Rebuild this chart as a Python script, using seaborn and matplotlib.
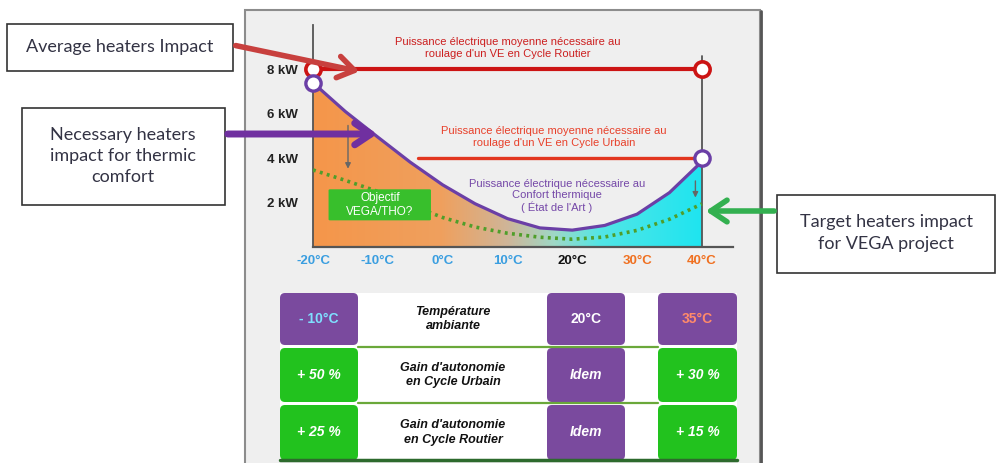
import numpy as np
import pandas as pd
import seaborn as sns
import matplotlib.pyplot as plt
from matplotlib.colors import LinearSegmentedColormap
from matplotlib.patches import Rectangle, FancyBboxPatch, FancyArrowPatch

# power needed vs ambient temperature (degC, kW)
temps = [-20, -15, -10, -5, 0, 5, 10, 15, 20, 25, 30, 35, 40]
comfort_kw = [7.4, 6.1, 4.95, 3.82, 2.8, 1.95, 1.28, 0.86, 0.76, 0.97, 1.48, 2.45, 3.85]
target_kw = [3.47, 3.0, 2.5, 1.9, 1.33, 0.9, 0.62, 0.44, 0.35, 0.45, 0.75, 1.25, 1.94]
routier_temps = [-20, 40]
routier_kw = [8, 8]
urbain_temps = [-3.8, 40]
urbain_kw = [4, 4]
comfort_ends_temps = [-20, 40]
comfort_ends_kw = [7.4, 4.0]

xtick_vals = [-20, -10, 0, 10, 20, 30, 40]
xtick_labels = ["-20°C", "-10°C", "0°C", "10°C", "20°C", "30°C", "40°C"]
xtick_colors = ["#3a9ee0"] * 4 + ["#111111", "#f07020", "#f07020"]
ytick_vals = [2, 4, 6, 8]
ytick_labels = ["2 kW", "4 kW", "6 kW", "8 kW"]

# table below the chart
table_temps = ["- 10°C", "20°C", "35°C"]
table_temp_colors = ["#7fe0ff", "white", "#ff8a6a"]
gain_urbain = ["+ 50 %", "Idem", "+ 30 %"]
gain_routier = ["+ 25 %", "Idem", "+ 15 %"]
row_labels = ["Température\nambiante", "Gain d'autonomie\nen Cycle Urbain",
              "Gain d'autonomie\nen Cycle Routier"]

W, H = 997, 463
PURPLE = "#7a4a9e"
GREEN = "#22c21e"

sns.set_theme(style="white")
plt.rcParams['font.family'] = ['Liberation Sans', 'DejaVu Sans']

fig = plt.figure(figsize=(W / 100, H / 100), dpi=100)
bg = fig.add_axes([0, 0, 1, 1], zorder=0)
top = fig.add_axes([0, 0, 1, 1], zorder=3)
for a in (bg, top):
    a.set_xlim(0, W)
    a.set_ylim(H, 0)
    a.axis("off")
top.patch.set_alpha(0)

# grey panel
bg.add_patch(Rectangle((245, 10), 515, 470, fc="#efefef", ec="#8c8c8c", lw=1.5))
bg.plot([761, 761], [11, 463], color="#555555", lw=2)

# ---- chart ----
ax = fig.add_axes([313 / W, (H - 247) / H, 420 / W, 222 / H], zorder=2)
ax.patch.set_alpha(0)

poly = ax.fill_between(temps, comfort_kw, 0, color="none", lw=0)
cmap = LinearSegmentedColormap.from_list("heat", [
    (0.0, "#f5964a"), (0.33, "#efa05e"), (0.5, "#cfb598"),
    (0.62, "#9fd8c6"), (0.74, "#52e6e6"), (1.0, "#1fe4f0")])
im = ax.imshow(np.linspace(0, 1, 256).reshape(1, -1), extent=(-20, 40, 0, 8),
               aspect="auto", cmap=cmap, origin="lower", zorder=1)
im.set_clip_path(poly.get_paths()[0], transform=ax.transData)

ax.axvline(temps[-1], ymax=0.86, color="#555555", lw=1.3, zorder=2)

sns.lineplot(x=routier_temps, y=routier_kw, ax=ax, color="#cc1414", lw=3, zorder=4)
sns.lineplot(x=urbain_temps, y=urbain_kw, ax=ax, color="#e2361f", lw=2.4, zorder=4)
sns.lineplot(x=temps, y=comfort_kw, ax=ax, color="#6b3fa6", lw=2.3, zorder=4)
sns.lineplot(x=temps, y=target_kw, ax=ax, color="#4f9e2a", lw=2.6,
             linestyle=(0, (0.8, 1.2)), zorder=4)
ax.plot(routier_temps, routier_kw, "o", ms=11, mfc="white", mec="#cc1414", mew=2.6,
        zorder=5, clip_on=False)
ax.plot(comfort_ends_temps, comfort_ends_kw, "o", ms=11, mfc="white", mec="#6b3fa6",
        mew=2.4, zorder=5, clip_on=False)

ax.set_xlim(-20, 44.8)
ax.set_ylim(0, 10)
ax.set_xticks(xtick_vals)
ax.set_xticklabels(xtick_labels, fontsize=9.5, fontweight="bold")
for lab, c in zip(ax.get_xticklabels(), xtick_colors):
    lab.set_color(c)
ax.set_yticks(ytick_vals)
ax.set_yticklabels(ytick_labels, fontsize=9.5, fontweight="bold", color="#222222")
ax.tick_params(axis="x", length=0, pad=6)
ax.tick_params(axis="y", length=0, pad=11)
for s in ("top", "right"):
    ax.spines[s].set_visible(False)
ax.spines["left"].set_color("#555555")
ax.spines["left"].set_linewidth(1.3)
ax.spines["bottom"].set_color("#555555")
ax.spines["bottom"].set_linewidth(1.6)
ax.set_xlabel("")
ax.set_ylabel("")

# small grey arrows from comfort to target
ax.annotate("", xy=(-14.6, 3.4), xytext=(-14.6, 5.6),
            arrowprops=dict(arrowstyle="-|>", color="#666666", lw=1, mutation_scale=8), zorder=6)
ax.annotate("", xy=(39, 2.1), xytext=(39, 3.1),
            arrowprops=dict(arrowstyle="-|>", color="#666666", lw=1, mutation_scale=8), zorder=6)

# objective box
ax.add_patch(FancyBboxPatch((-17.6, 1.2), 15.8, 1.4, boxstyle="round,pad=0,rounding_size=0.25",
                            fc="#38bf2c", ec="none", zorder=6, mutation_aspect=1 / 6))
top.text(380, 205, "Objectif\nVEGA/THO?", color="white", fontsize=8.5, ha="center",
         va="center", linespacing=1.2)

top.text(508, 48, "Puissance électrique moyenne nécessaire au\nroulage d'un VE en Cycle Routier",
         color="#cc1f1f", fontsize=8, ha="center", va="center", linespacing=1.2)
top.text(554, 137, "Puissance électrique moyenne nécessaire au\nroulage d'un VE en Cycle Urbain",
         color="#e8402a", fontsize=8, ha="center", va="center", linespacing=1.2)
top.text(557, 196, "Puissance électrique nécessaire au\nConfort thermique\n( État de l'Art )",
         color="#7548a8", fontsize=8, ha="center", va="center", linespacing=1.15)

# ---- callout boxes ----
box_font = ['Lato', 'DejaVu Sans']
top.add_patch(Rectangle((7, 24), 226, 47, fc="white", ec="#333333", lw=1.2))
top.text(120, 47, "Average heaters Impact", fontsize=13, family=box_font,
         color="#333344", ha="center", va="center")
top.add_patch(Rectangle((22, 108), 203, 97, fc="white", ec="#333333", lw=1.2))
top.text(123, 156, "Necessary heaters\nimpact for thermic\ncomfort", fontsize=13,
         family=box_font, color="#333344", ha="center", va="center", linespacing=1.4)
top.add_patch(Rectangle((777, 195), 218, 78, fc="white", ec="#333333", lw=1.2))
top.text(886, 233, "Target heaters impact\nfor VEGA project", fontsize=13,
         family=box_font, color="#333344", ha="center", va="center", linespacing=1.45)

arrow_style = "->,head_length=0.9,head_width=0.6"
top.add_patch(FancyArrowPatch((233, 45), (362, 72), arrowstyle=arrow_style,
                              mutation_scale=13, lw=4, color="#c8403e"))
top.add_patch(FancyArrowPatch((225, 134), (380, 134), arrowstyle=arrow_style,
                              mutation_scale=13, lw=5, color="#7030a0"))
top.add_patch(FancyArrowPatch((777, 211), (703, 211), arrowstyle=arrow_style,
                              mutation_scale=13, lw=4, color="#33b050"))

# ---- table ----
cols = [(280, 358), (547, 625), (658, 737)]
rows = [(293, 345), (348, 402), (405, 460)]
bg.add_patch(Rectangle((280, 293), 457, 167, fc="white", ec="none"))
for y in (347, 403):
    bg.plot([358, 658], [y, y], color="#6aa83a", lw=1.6)
bg.plot([280, 737], [460, 460], color="#2d6a2d", lw=2.5)

row_values = [table_temps, gain_urbain, gain_routier]
for r, (y0, y1) in enumerate(rows):
    for c, (x0, x1) in enumerate(cols):
        if r == 0 or c == 1:
            fc = PURPLE
        else:
            fc = GREEN
        bg.add_patch(FancyBboxPatch((x0, y0), x1 - x0, y1 - y0,
                                    boxstyle="round,pad=0,rounding_size=5", fc=fc, ec="none"))
        if r == 0:
            color, style = table_temp_colors[c], "normal"
        else:
            color, style = "white", "italic"
        bg.text((x0 + x1) / 2, (y0 + y1) / 2, row_values[r][c], color=color, fontsize=10,
                fontweight="bold", fontstyle=style, ha="center", va="center")
    bg.text(453, (y0 + y1) / 2, row_labels[r], color="#111111", fontsize=9,
            fontweight="bold", fontstyle="italic", ha="center", va="center", linespacing=1.25)

fig.savefig("out.png", dpi=100)
